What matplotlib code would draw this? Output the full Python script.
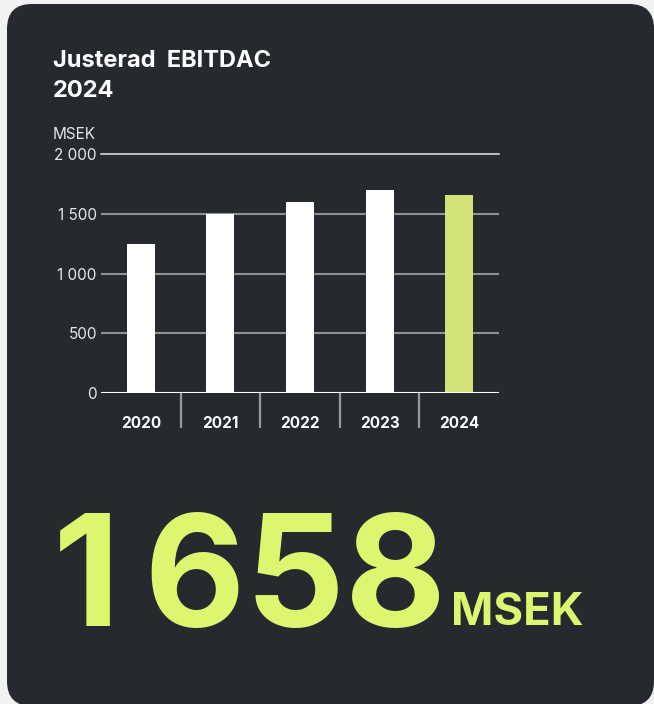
import matplotlib
matplotlib.use("Agg")
import matplotlib.pyplot as plt
from matplotlib.patches import FancyBboxPatch
from matplotlib.transforms import blended_transform_factory

years = ["2020", "2021", "2022", "2023", "2024"]
values = [1250, 1500, 1600, 1700, 1658]
yticks = [0, 500, 1000, 1500, 2000]
ytick_labels = ["0", "500", "1 000", "1 500", "2 000"]
title_lines = ["Justerad  EBITDAC", "2024"]
unit_label = "MSEK"
big_value = "1\u2009658"
big_unit = "MSEK"

BG_OUT = "#f2f2f2"
CARD = "#262a2f"
BAR = "#ffffff"
HILITE = "#d4e27a"
BIG = "#def56f"
GRID = "#8e9194"

W, H = 654, 704
fig = plt.figure(figsize=(W / 100, H / 100), dpi=100)
fig.patch.set_facecolor(BG_OUT)

# card background
card = FancyBboxPatch((7 / W, -2 / H), (654 - 7) / W, (702) / H,
                      boxstyle="round,pad=0,rounding_size=0.038",
                      transform=fig.transFigure, facecolor=CARD, edgecolor="none",
                      mutation_aspect=W / H, zorder=-10)
fig.patches.append(card)

FONT = "Inter"

# title
fig.text(53 / W, 1 - 67 / H, title_lines[0], fontsize=17, fontweight="bold",
         color="white", family=FONT, va="baseline", ha="left", zorder=5)
fig.text(53 / W, 1 - 97 / H, title_lines[1], fontsize=17, fontweight="bold",
         color="white", family=FONT, va="baseline", ha="left", zorder=5)

# axes
left, right, y0, ytop = 101, 499, 393, 154
ax = fig.add_axes([left / W, 1 - y0 / H, (right - left) / W, (y0 - ytop) / H])
ax.set_zorder(5)
ax.set_facecolor("none")
x = list(range(len(years)))
colors = [BAR] * (len(years) - 1) + [HILITE]
ax.bar(x, values, width=0.35, color=colors, zorder=3)
ax.set_xlim(-0.5, len(years) - 0.5)
ax.set_ylim(0, 2000)
ax.set_yticks(yticks)
ax.set_yticklabels(ytick_labels)
for t in ax.get_yticklabels():
    t.set_family(FONT)
    t.set_fontsize(11)
    t.set_color("#e6e6e6")
ax.tick_params(axis="y", length=0, pad=3)
ax.set_xticks([])
for s in ax.spines.values():
    s.set_visible(False)
for yv in yticks:
    if yv == 0:
        ax.axhline(yv, color="white", lw=1.5, zorder=4)
    elif yv == 2000:
        ax.axhline(yv, color="#d8d8d8", lw=1.2, zorder=1, clip_on=False)
    else:
        ax.axhline(yv, color=GRID, lw=1.5, zorder=1)

hpx = y0 - ytop
trans = blended_transform_factory(ax.transData, ax.transAxes)
ax.vlines([i + 0.5 for i in x[:-1]], -35 / hpx, 0, transform=trans,
          color="#9a9a9a", lw=1.6, clip_on=False)
for i, yr in zip(x, years):
    ax.text(i, -35 / hpx, yr, transform=trans, ha="center", va="baseline",
            fontsize=11, fontweight="bold", color="white", family=FONT)

fig.text(53 / W, 1 - 139 / H, unit_label, fontsize=11, color="#e6e6e6",
         family=FONT, va="baseline", ha="left", zorder=5)

# big number
fig.text(53 / W, 1 - 626 / H, big_value, fontsize=112, fontweight="bold",
         color=BIG, family=FONT, va="baseline", ha="left", zorder=5)
fig.text(451 / W, 1 - 625 / H, big_unit, fontsize=32.7, fontweight="bold",
         color=BIG, family=FONT, va="baseline", ha="left", zorder=5)

fig.savefig("out.png", dpi=100, facecolor=fig.get_facecolor())
